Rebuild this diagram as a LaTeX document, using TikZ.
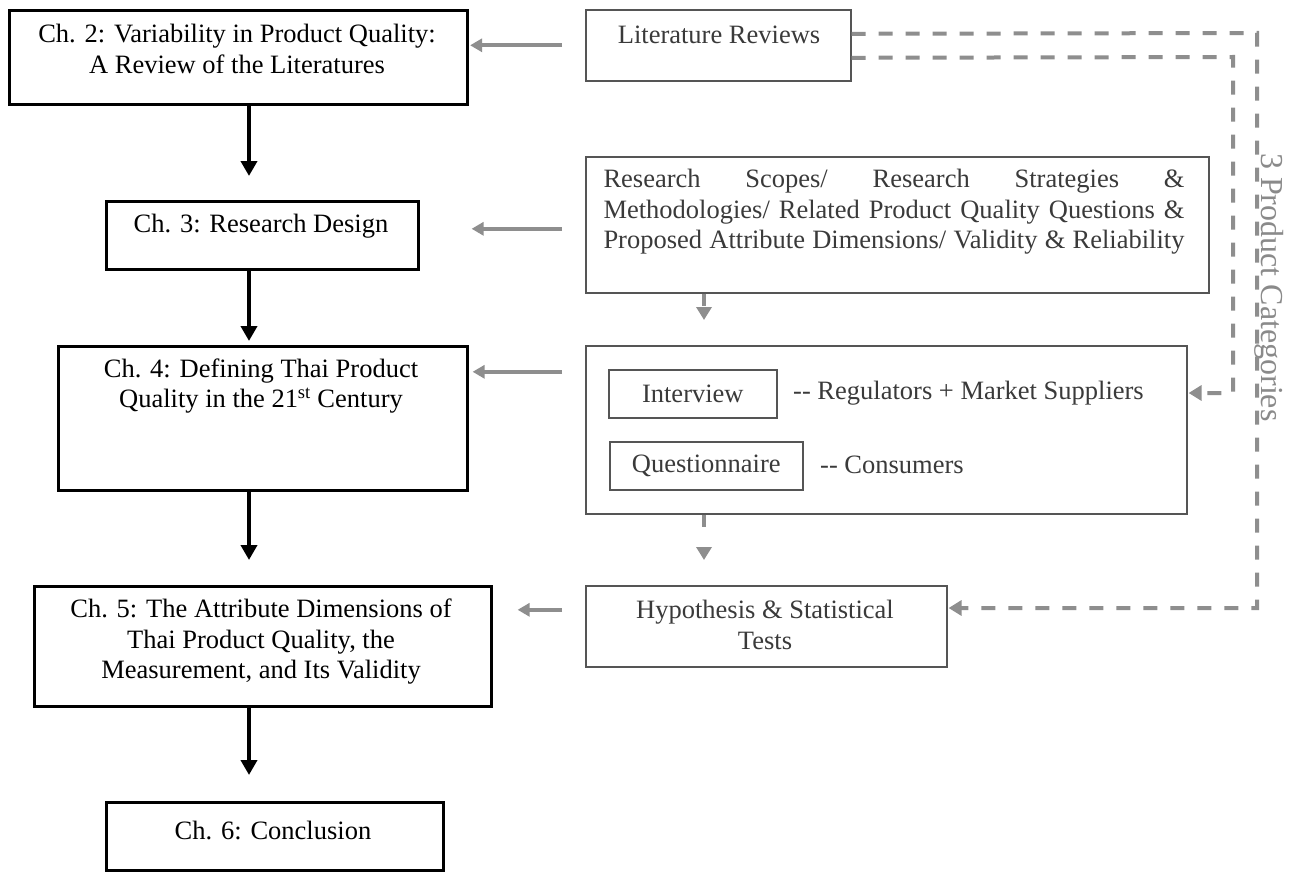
\documentclass[tikz,border=0pt]{standalone}
\usepackage{fontspec}
\setmainfont{Liberation Serif}
\usetikzlibrary{arrows.meta}
\definecolor{gline}{HTML}{8E8E8E}
\definecolor{gtext}{HTML}{3A3A3A}
\definecolor{gbord}{HTML}{555555}
\definecolor{cattext}{HTML}{8A8A8A}
\begin{document}
\begin{tikzpicture}[x=1pt,y=-1pt,
  chbox/.style={draw=black, line width=2.6pt, inner sep=0pt, anchor=north west},
  rbox/.style={draw=gbord, line width=1.6pt, inner sep=0pt, anchor=north west},
  ctext/.style={font=\fontsize{26.5}{30.5}\selectfont, align=center, inner sep=0pt, text=black},
  rtext/.style={font=\fontsize{26.5}{30.5}\selectfont, align=center, inner sep=0pt, text=gtext},
  barrow/.style={draw=black, line width=4pt, -{Triangle[width=16pt,length=15pt]}},
  garrow/.style={draw=gline, line width=4pt, -{Triangle[width=13pt,length=12pt]}},
  dline/.style={draw=gline, line width=4pt, dash pattern=on 14pt off 13pt, -{Triangle[width=15pt,length=13pt]}},
  sdline/.style={draw=gline, line width=4pt, dash pattern=on 12pt off 30pt, -{Triangle[width=15pt,length=13pt]}}]
\fill[white] (0,0) rectangle (1305,872);
\useasboundingbox (0,0) rectangle (1305,872);

% left column boxes
\node[chbox, minimum width=458pt, minimum height=94pt] (ch2) at (8,9) {};
\node[chbox, minimum width=312pt, minimum height=68pt] (ch3) at (105,200) {};
\node[chbox, minimum width=409pt, minimum height=144pt] (ch4) at (57,345) {};
\node[chbox, minimum width=457pt, minimum height=120pt] (ch5) at (33,585) {};
\node[chbox, minimum width=337pt, minimum height=68pt] (ch6) at (105,801) {};

\node[ctext] (ch2t) at (237,49) {Ch. 2: Variability in Product Quality:\\A Review of the Literatures};
\node[ctext] (ch3t) at (261,226) {Ch. 3: Research Design};
\node[ctext] (ch4t) at (261,386) {Ch. 4: Defining Thai Product\\Quality in the 21\textsuperscript{st} Century};
\node[ctext] (ch5t) at (261,642) {Ch. 5: The Attribute Dimensions of\\Thai Product Quality, the\\Measurement, and Its Validity};
\node[ctext] (ch6t) at (273,830) {Ch. 6: Conclusion};

% right column boxes
\node[rbox, minimum width=265pt, minimum height=71pt] (lit) at (585,9) {};
\node[rbox, minimum width=623pt, minimum height=136pt] (res) at (585,156) {};
\node[rbox, minimum width=601pt, minimum height=168pt] (grp) at (585,345) {};
\node[rbox, minimum width=168pt, minimum height=48pt] (intv) at (608,369) {};
\node[rbox, minimum width=193pt, minimum height=48pt] (quest) at (609,441) {};
\node[rbox, minimum width=361pt, minimum height=81pt] (hyp) at (585,585) {};

\node[rtext] (litt) at (719,35) {Literature Reviews};
\node[rtext, align=left] (rest) at (894,212) {%
\makebox[581pt][s]{Research Scopes/ Research Strategies \&}\\
\makebox[581pt][s]{Methodologies/ Related Product Quality Questions \&}\\
\makebox[581pt][s]{Proposed Attribute Dimensions/ Validity \& Reliability}};
\node[rtext] (intvt) at (intv.center) {Interview};
\node[rtext, anchor=west] (regt) at (793,393) {-{}- Regulators + Market Suppliers};
\node[rtext] (questt) at (quest.center) {Questionnaire};
\node[rtext, anchor=west] (cont) at (820,465) {-{}- Consumers};
\node[rtext] (hypt) at (765,625) {Hypothesis \& Statistical\\Tests};

\node[font=\fontsize{32}{36}\selectfont, text=cattext, rotate=-90, anchor=base west, inner sep=0pt] (cat) at (1261,153) {3 Product Categories};

% black arrows
\coordinate (ax) at (249,0);
\draw[barrow] (ch2.south -| ax) -- ([yshift=24pt]ch3.north -| ax);
\draw[barrow] (ch3.south -| ax) -- ([yshift=4pt]ch4.north -| ax);
\draw[barrow] (ch4.south -| ax) -- ([yshift=25pt]ch5.north -| ax);
\draw[barrow] (ch5.south -| ax) -- ([yshift=26pt]ch6.north -| ax);

% grey arrows
\draw[garrow] ([xshift=-23pt]lit.west) coordinate (g1s) -- ([xshift=1.5pt]ch2.east |- g1s);
\draw[garrow] ([xshift=-23pt,yshift=-4pt]res.west) coordinate (g2s) -- ([xshift=52pt]ch3.east |- g2s);
\draw[garrow] ([xshift=-23pt,yshift=58pt]grp.west) coordinate (g3s) -- ([xshift=4pt]ch4.east |- g3s);
\draw[garrow] ([xshift=-23pt,yshift=16.5pt]hyp.west) coordinate (g4s) -- ([xshift=25pt]ch5.east |- g4s);

% dashed connectors
\coordinate (d1a) at (1257,33);
\coordinate (d1b) at (1257,608);
\coordinate (d2a) at (1233,57);
\coordinate (d2b) at (1233,393);
\draw[dline] ([yshift=11.5pt]lit.east) -- (d1a) -- (d1b) -- ([xshift=1pt]hyp.east |- d1b);
\draw[dline] ([yshift=-12.5pt]lit.east) -- (d2a) -- (d2b) -- ([xshift=1pt]grp.east |- d2b);
\coordinate (dx) at (704,0);
\draw[sdline] (res.south -| dx) -- ([yshift=25pt]grp.north -| dx);
\draw[sdline] (grp.south -| dx) -- ([yshift=25pt]hyp.north -| dx);
\end{tikzpicture}
\end{document}
